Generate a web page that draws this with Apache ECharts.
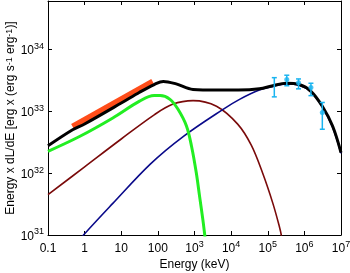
<!DOCTYPE html>
<html><head><meta charset="utf-8">
<script src="https://cdn.jsdelivr.net/npm/echarts@6/dist/echarts.min.js"></script>
<style>html,body{margin:0;padding:0;background:#fff}#c{width:350px;height:273px}</style>
</head><body><div id="c"></div>
<script>
// ---- data (E in keV, L in erg/s) ----
const xTickValues = [0.1, 1, 10, 100, 1e3, 1e4, 1e5, 1e6, 1e7];
const xTickLabels = ['0.1', '1', '10', '100', '10^3', '10^4', '10^5', '10^6', '10^7'];
const yTickValues = [1e31, 1e32, 1e33, 1e34];
const yTickLabels = ['10^31', '10^32', '10^33', '10^34'];

const totalE = [0.1, 0.47, 1, 10, 31.6, 79.4, 141, 316, 912, 3980, 15800, 58900, 138000, 316000, 724000, 1510000, 3090000, 5890000, 10000000];
const totalL = [2.75e32, 5.0e32, 6.2e32, 1.35e33, 2.02e33, 2.69e33, 3.02e33, 2.75e33, 2.24e33, 2.19e33, 2.19e33, 2.29e33, 2.57e33, 2.82e33, 2.69e33, 2.09e33, 1.20e33, 5.75e32, 2.14e32];

const greenE = [0.1, 0.724, 5.89, 31.6, 79.4, 115, 214, 355, 603, 832, 1122, 1380, 1698, 1905, 2089];
const greenL = [2.24e32, 3.89e32, 7.76e32, 1.45e33, 1.78e33, 1.78e33, 1.55e33, 1.07e33, 5.75e32, 2.69e32, 1.0e32, 4.17e31, 1.74e31, 1.0e31, 6.3e30];

const brownE = [0.1, 1, 10, 79.4, 251, 912, 3981, 15100, 35500, 72400, 138000, 209000, 234000, 250000];
const brownL = [4.47e31, 1.26e32, 3.55e32, 8.71e32, 1.29e33, 1.48e33, 1.20e33, 6.17e32, 2.82e32, 1.0e32, 3.24e31, 1.35e31, 1.0e31, 7.1e30];

const blueE = [0.7, 0.933, 5.89, 63.1, 490, 6026, 17000, 58900, 138000, 316000, 724000, 1510000, 3090000, 5890000, 10000000];
const blueL = [7.9e30, 1.0e31, 3.24e31, 1.41e32, 3.89e32, 1.07e33, 1.55e33, 2.19e33, 2.51e33, 2.75e33, 2.63e33, 2.04e33, 1.17e33, 5.5e32, 2.09e32];

const orangeE = [0.47, 72.4];
const orangeL = [5.6e32, 3.0e33];

const pointE = [1.51e5, 3.31e5, 6.92e5, 1.51e6, 3.09e6];
const pointL = [2.45e33, 3.24e33, 2.88e33, 2.40e33, 9.5e32];
const pointLow = [1.70e33, 2.57e33, 2.29e33, 1.78e33, 5.1e32];
const pointHigh = [3.47e33, 3.80e33, 3.31e33, 2.82e33, 1.38e33];
const pointMarker = [false, true, true, true, true];

// ---- helpers ----
const FONT = 'Liberation Sans, Arial, sans-serif';
const pair = (xs, ys) => xs.map((x, i) => [x, ys[i]]);
function toRich(s) {
  const m = s.split('^');
  return m.length === 2 ? '{b|' + m[0] + '}{s|' + m[1] + '}' : '{b|' + s + '}';
}
function labelFor(values, labels) {
  return v => {
    const n = Math.round(Math.log10(v));
    if (Math.abs(Math.log10(v) - n) > 1e-6) return '';
    const i = values.findIndex(t => Math.round(Math.log10(t)) === n);
    return i < 0 ? '' : toRich(labels[i]);
  };
}
const rich = {
  b: { fontSize: 12, fontFamily: FONT, color: '#000', lineHeight: 15, verticalAlign: 'bottom' },
  s: { fontSize: 9, fontFamily: FONT, color: '#000', lineHeight: 9, verticalAlign: 'top' }
};
const CYAN = '#1ab4f0';

const chart = echarts.init(document.getElementById('c'), null, { renderer: 'canvas' });
const axisLine = { show: true, lineStyle: { color: '#000', width: 1 } };
const axisTick = { show: true, inside: true, length: 4, lineStyle: { color: '#000', width: 1 } };

chart.setOption({
  animation: false,
  backgroundColor: '#fff',
  grid: { left: 48, right: 9, top: 1, bottom: 38, containLabel: false, outerBoundsMode: 'none' },
  xAxis: [
    {
      type: 'log', logBase: 10, min: 0.1, max: 1e7,
      axisLine, axisTick, splitLine: { show: false }, minorTick: { show: false },
      axisLabel: { formatter: labelFor(xTickValues, xTickLabels), rich, margin: 5, interval: 0, hideOverlap: false },
      name: 'Energy (keV)', nameLocation: 'middle', nameGap: 24, nameMoveOverlap: false,
      nameTextStyle: { fontSize: 12, fontFamily: FONT, color: '#000' }
    },
    {
      type: 'log', logBase: 10, min: 0.1, max: 1e7, position: 'top',
      axisLine, axisTick, axisLabel: { show: false }, splitLine: { show: false }
    }
  ],
  yAxis: [
    {
      type: 'log', logBase: 10, min: 1e31, max: 6e34,
      axisLine, axisTick, splitLine: { show: false }, minorTick: { show: false },
      axisLabel: { formatter: labelFor(yTickValues, yTickLabels), rich, margin: 4 },
      name: 'Energy x dL/dE [erg x (erg s{s|-1} erg{s|-1})]',
      nameLocation: 'middle', nameRotate: 90, nameGap: 31, nameMoveOverlap: false,
      nameTextStyle: { fontSize: 12, fontFamily: FONT, color: '#000', rich: {
        s: { fontSize: 9, fontFamily: FONT, color: '#000', lineHeight: 9, verticalAlign: 'top' } } }
    },
    {
      type: 'log', logBase: 10, min: 1e31, max: 6e34, position: 'right',
      axisLine, axisTick, axisLabel: { show: false }, splitLine: { show: false }
    }
  ],
  series: [
    { type: 'line', data: pair(orangeE, orangeL), showSymbol: false, clip: true,
      lineStyle: { color: '#ff4d1a', width: 6, cap: 'butt' }, z: 2 },
    { type: 'line', data: pair(brownE, brownL), smooth: 0.35, showSymbol: false, clip: true,
      lineStyle: { color: '#7a0a0a', width: 1.6 }, z: 3 },
    { type: 'line', data: pair(blueE, blueL), smooth: 0.35, showSymbol: false, clip: true,
      lineStyle: { color: '#0a0a8a', width: 1.6 }, z: 3 },
    { type: 'line', data: pair(greenE, greenL), smooth: 0.35, showSymbol: false, clip: true,
      lineStyle: { color: '#22ee22', width: 3 }, z: 4 },
    { type: 'line', data: pair(totalE, totalL), smooth: 0.35, showSymbol: false, clip: true,
      lineStyle: { color: '#000', width: 3 }, z: 5 },
    { type: 'custom', z: 6,
      data: pointE.map((e, i) => [e, pointLow[i], pointHigh[i]]),
      encode: { x: 0, y: [1, 2] },
      renderItem: (params, api) => {
        const p1 = api.coord([api.value(0), api.value(1)]);
        const p2 = api.coord([api.value(0), api.value(2)]);
        const w = 2.5, st = { stroke: CYAN, lineWidth: 1.5 };
        return { type: 'group', children: [
          { type: 'line', shape: { x1: p1[0], y1: p1[1], x2: p2[0], y2: p2[1] }, style: st },
          { type: 'line', shape: { x1: p1[0] - w, y1: p1[1], x2: p1[0] + w, y2: p1[1] }, style: st },
          { type: 'line', shape: { x1: p2[0] - w, y1: p2[1], x2: p2[0] + w, y2: p2[1] }, style: st }
        ] };
      }
    },
    { type: 'scatter', z: 7, symbol: 'circle',
      data: pointE.map((e, i) => ({ value: [e, pointL[i]], symbolSize: pointMarker[i] ? 5 : 0 })),
      itemStyle: { color: CYAN } }
  ]
});
</script>
</body></html>
